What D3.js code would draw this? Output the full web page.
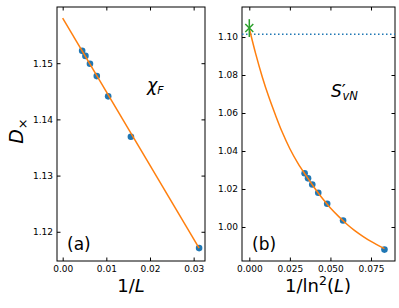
<!DOCTYPE html>
<html>
<head>
<meta charset="utf-8">
<script src="https://cdn.jsdelivr.net/npm/d3@7"></script>
<style>
    html, body { margin: 0; padding: 0; background: #fff; }
    svg { display: block; font-family: "DejaVu Sans", sans-serif; }
    .axis path, .axis line { stroke: #000; }
    .axis text { fill: #000; font-size: 9px; font-family: "DejaVu Sans", sans-serif; }
</style>
</head>
<body>
<svg id="chart" width="399" height="308"></svg>
<script>
// (a) chi_F crossing values vs 1/L
var invL = [0.00446, 0.00521, 0.00625, 0.00781, 0.01042, 0.01563, 0.03125];
var chiF = [1.1522, 1.1513, 1.1499, 1.1477, 1.1441, 1.1369, 1.1171];
var fitAX = [0, 0.03125];
var fitAY = [1.1580, 1.1171];

// (b) S'_vN crossing values vs 1/ln^2(L)
var invLn2 = [0.0341, 0.0362, 0.0388, 0.0425, 0.0480, 0.0578, 0.0833];
var svn = [1.0283, 1.0256, 1.0224, 1.0180, 1.0122, 1.0034, 0.9881];
var fitBX = [0, 0.004, 0.008, 0.012, 0.016, 0.020, 0.025, 0.030, 0.035, 0.040, 0.045, 0.050, 0.055, 0.060, 0.065, 0.070, 0.075, 0.0833];
var fitBY = [1.1045, 1.0910, 1.0790, 1.0685, 1.0592, 1.0505, 1.0412, 1.0335, 1.0270, 1.0208, 1.0151, 1.0100, 1.0056, 1.0016, 0.9981, 0.9951, 0.9924, 0.9886];
var extrapX = 0, extrapY = 1.1047, extrapErr = 0.0047;
var refLineY = 1.1014;

var ticksAX = [0, 0.01, 0.02, 0.03];
var ticksAY = [1.12, 1.13, 1.14, 1.15];
var ticksBX = [0, 0.025, 0.05, 0.075];
var ticksBY = [1.00, 1.02, 1.04, 1.06, 1.08, 1.10];

var blue = "#1f77b4", orange = "#ff7f0e", green = "#2ca02c";
var plotTop = 7, plotBottom = 261;
var svg = d3.select("#chart");

function makePanel(left, right, xDomain, yDomain, xTicks, yTicks, xFmt, yFmt) {
    var x = d3.scaleLinear().domain(xDomain).range([left, right]);
    var y = d3.scaleLinear().domain(yDomain).range([plotBottom, plotTop]);
    var g = svg.append("g");

    var tick = 3.5;
    g.append("g").attr("class", "axis").attr("transform", "translate(0," + plotBottom + ")")
        .call(d3.axisBottom(x).tickValues(xTicks).tickFormat(d3.format(xFmt)).tickSizeInner(-tick).tickSizeOuter(0).tickPadding(5));
    g.append("g").attr("class", "axis").attr("transform", "translate(0," + plotTop + ")")
        .call(d3.axisTop(x).tickValues(xTicks).tickFormat("").tickSizeInner(-tick).tickSizeOuter(0));
    g.append("g").attr("class", "axis").attr("transform", "translate(" + left + ",0)")
        .call(d3.axisLeft(y).tickValues(yTicks).tickFormat(d3.format(yFmt)).tickSizeInner(-tick).tickSizeOuter(0).tickPadding(4));
    g.append("g").attr("class", "axis").attr("transform", "translate(" + right + ",0)")
        .call(d3.axisRight(y).tickValues(yTicks).tickFormat("").tickSizeInner(-tick).tickSizeOuter(0));

    g.selectAll(".axis path").remove();
    g.append("rect")
        .attr("x", left).attr("y", plotTop)
        .attr("width", right - left).attr("height", plotBottom - plotTop)
        .attr("fill", "none").attr("stroke", "#000").attr("stroke-width", 1);

    return { g: g, x: x, y: y, left: left, right: right };
}

function drawLine(p, xs, ys) {
    var line = d3.line()
        .x((d) => p.x(d[0]))
        .y((d) => p.y(d[1]))
        .curve(d3.curveCatmullRom);
    p.g.append("path")
        .datum(xs.map((v, i) => [v, ys[i]]))
        .attr("fill", "none")
        .attr("stroke", orange)
        .attr("stroke-width", 1.5)
        .attr("d", line);
}

function drawDots(p, xs, ys) {
    p.g.selectAll(null)
        .data(xs.map((v, i) => [v, ys[i]]))
        .enter().append("circle")
        .attr("cx", (d) => p.x(d[0]))
        .attr("cy", (d) => p.y(d[1]))
        .attr("r", 3.3)
        .attr("fill", blue);
}

// panel (a)
var pa = makePanel(57, 205, [-0.0013, 0.0326], [1.1148, 1.1600], ticksAX, ticksAY, ".2f", ".2f");
drawDots(pa, invL, chiF);
drawLine(pa, fitAX, fitAY);

// panel (b)
var pb = makePanel(242, 395, [-0.0045, 0.0898], [0.9821, 1.1158], ticksBX, ticksBY, ".3f", ".2f");
pb.g.append("line")
    .attr("x1", pb.left).attr("x2", pb.right)
    .attr("y1", pb.y(refLineY)).attr("y2", pb.y(refLineY))
    .attr("stroke", blue).attr("stroke-width", 1.5)
    .attr("stroke-dasharray", "1.5,2.5");
drawDots(pb, invLn2, svn);
drawLine(pb, fitBX, fitBY);

// extrapolated point with error bar
var ex = pb.x(extrapX), ey = pb.y(extrapY), m = 4;
pb.g.append("line")
    .attr("x1", ex).attr("x2", ex)
    .attr("y1", pb.y(extrapY + extrapErr)).attr("y2", pb.y(extrapY - extrapErr))
    .attr("stroke", green).attr("stroke-width", 1.5);
pb.g.append("path")
    .attr("d", "M" + (ex - m) + "," + (ey - m) + "L" + (ex + m) + "," + (ey + m) +
               "M" + (ex - m) + "," + (ey + m) + "L" + (ex + m) + "," + (ey - m))
    .attr("stroke", green).attr("stroke-width", 1.5);

// labels
function mathText(xPos, yPos, parts, anchor) {
    var t = svg.append("text")
        .attr("x", xPos).attr("y", yPos)
        .attr("text-anchor", anchor || "start")
        .attr("fill", "#000");
    parts.forEach((p) => {
        var s = t.append("tspan").text(p.t).attr("font-size", p.size);
        if (p.italic) s.attr("font-style", "italic");
        if (p.dy) s.attr("dy", p.dy);
        if (p.dx) s.attr("dx", p.dx);
    });
    return t;
}

mathText(131, 292, [
    { t: "1/", size: 18 },
    { t: "L", size: 18, italic: true }
], "middle");

mathText(318, 292, [
    { t: "1/ln", size: 18 },
    { t: "2", size: 12.5, dy: -7 },
    { t: "(", size: 18, dy: 7 },
    { t: "L", size: 18, italic: true },
    { t: ")", size: 18 }
], "middle");

mathText(0, 0, [
    { t: "D", size: 19, italic: true },
    { t: "\u00d7", size: 13, dy: 4 }
], "middle").attr("transform", "translate(23,131) rotate(-90)");

mathText(147, 91, [
    { t: "\u03c7", size: 17.5, italic: true },
    { t: "F", size: 11, italic: true, dy: 3 }
]);

mathText(331, 96.5, [
    { t: "S", size: 17, italic: true },
    { t: "\u2032", size: 18 },
    { t: "vN", size: 11.5, italic: true, dy: 3.5, dx: -3.5 }
]);

mathText(67, 250, [{ t: "(a)", size: 17 }]);
mathText(252, 250, [{ t: "(b)", size: 17 }]);
</script>
</body>
</html>
